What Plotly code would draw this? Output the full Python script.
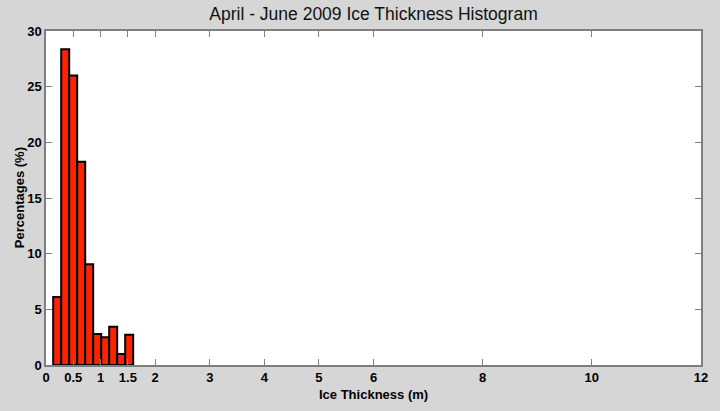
import plotly.graph_objects as go

bin_centers = [0.205, 0.352, 0.498, 0.645, 0.791, 0.938, 1.085, 1.231, 1.378, 1.524]
percentages = [6.1, 28.35, 26.0, 18.26, 9.04, 2.78, 2.49, 3.44, 0.99, 2.72]
bin_width = 0.1466
x_ticks = [0, 0.5, 1, 1.5, 2, 3, 4, 5, 6, 8, 10, 12]
x_tick_labels = ["0", "0.5", "1", "1.5", "2", "3", "4", "5", "6", "8", "10", "12"]
y_ticks = [0, 5, 10, 15, 20, 25, 30]

sans = "Liberation Sans, Arial, Helvetica, sans-serif"
tick_font = dict(family=sans, size=13, color="black", weight="bold")
label_font = dict(family=sans, size=13, color="black", weight="bold")

fig = go.Figure(go.Bar(
    x=bin_centers, y=percentages, width=[bin_width] * len(bin_centers),
    marker=dict(color="#ff2200", line=dict(color="black", width=2)),
    hoverinfo="skip",
))

fig.update_layout(
    width=720, height=411,
    paper_bgcolor="#d6d6d6", plot_bgcolor="white",
    margin=dict(l=46, r=19, t=31, b=46, autoexpand=False),
    showlegend=False,
    title=dict(text="April - June 2009 Ice Thickness Histogram",
               font=dict(family=sans, size=17.5, color="#111"),
               x=0.5, xanchor="center", xref="paper", y=0.966, yanchor="middle"),
    annotations=[
        dict(text="Ice Thickness (m)", xref="paper", yref="paper", x=0.5, y=-0.087,
             xanchor="center", yanchor="middle", showarrow=False, font=label_font),
        dict(text="Percentages (%)", xref="paper", yref="paper", x=-0.041, y=0.5,
             xanchor="center", yanchor="middle", textangle=-90, showarrow=False, font=label_font),
    ],
)
fig.update_xaxes(
    range=[0, 12], tickvals=x_ticks, ticktext=x_tick_labels, automargin=False,
    ticks="inside", ticklen=6, tickcolor="#7f7f7f", tickwidth=1,
    showline=True, linecolor="#7f7f7f", linewidth=1.5, mirror="ticks",
    showgrid=False, zeroline=False, tickfont=tick_font,
)
fig.update_yaxes(
    range=[0, 30], tickvals=y_ticks, automargin=False,
    ticks="inside", ticklen=6, tickcolor="#7f7f7f", tickwidth=1,
    showline=True, linecolor="#7f7f7f", linewidth=1.5, mirror="ticks",
    showgrid=False, zeroline=False, tickfont=tick_font,
)

fig.write_html("out.html", config={"displayModeBar": False},
               post_script="document.body.style.margin='0';")
